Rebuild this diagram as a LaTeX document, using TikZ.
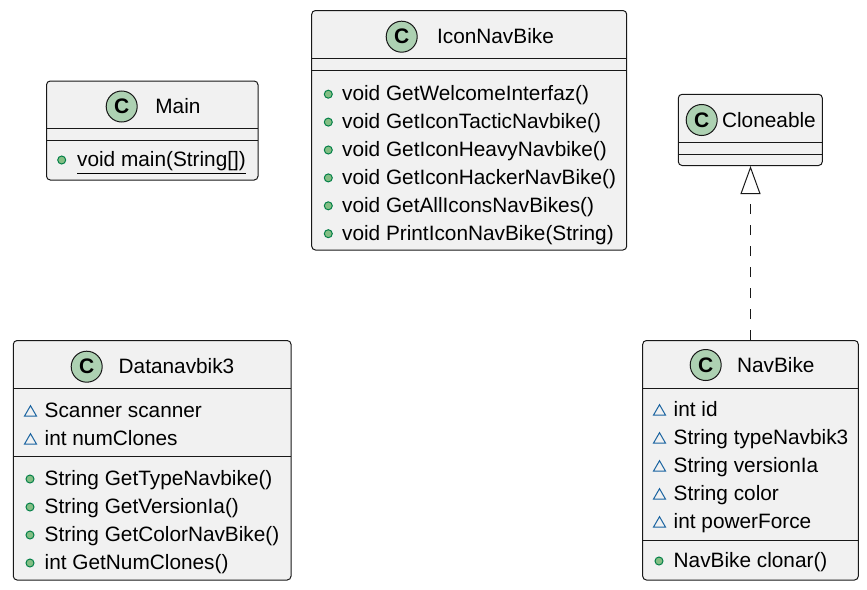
\documentclass[tikz,border=0pt]{standalone}
\usepackage{fontspec}
\setmainfont{Liberation Sans}
\usetikzlibrary{arrows.meta,shapes.geometric}
\definecolor{uborder}{HTML}{181818}
\definecolor{ubg}{HTML}{F1F1F1}
\definecolor{cgreen}{HTML}{ADD1B2}
\definecolor{dotfill}{HTML}{84BE84}
\definecolor{dotborder}{HTML}{038048}
\definecolor{triblue}{HTML}{1963A0}
\tikzset{
  classbox/.style={draw=uborder, fill=ubg, rounded corners=1.9pt, line width=0.5pt, inner sep=0pt},
  sepline/.style={draw=uborder, line width=0.5pt},
  cicon/.style={circle, draw=uborder, fill=cgreen, minimum size=15.5pt, inner sep=0pt, line width=0.5pt, font=\fontsize{10.5}{10.5}\selectfont\bfseries},
  ctitle/.style={anchor=base west, inner sep=0pt, font=\fontsize{10.4}{12}\selectfont},
  member/.style={anchor=base west, inner sep=0pt, font=\fontsize{10.4}{12}\selectfont},
  pubdot/.style={circle, draw=dotborder, fill=dotfill, minimum size=4pt, inner sep=0pt, line width=0.5pt},
  pkgtri/.style={regular polygon, regular polygon sides=3, draw=triblue, minimum size=7pt, inner sep=0pt, line width=0.5pt},
  realize/.style={draw=uborder, line width=0.5pt, dash pattern=on 5.25pt off 5.25pt, -{Triangle[open, length=14pt, width=10pt]}}
}
\begin{document}
\begin{tikzpicture}[x=0.5pt,y=-0.5pt]
\useasboundingbox (0,0) rectangle (867,589);

% ---------- Main ----------
\node[classbox, minimum width=105.75pt, minimum height=49.5pt] (main) at (152.25,130.5) {};
\draw[sepline] (46.5,128.3) -- (258,128.3);
\draw[sepline] (46.5,140) -- (258,140);
\node[cicon] (mainC) at (121.7,106.5) {C};
\node[ctitle] (mainT) at (155,113.3) {Main};
\node[pubdot] (mainD1) at (61.7,160) {};
\node[member] (mainM1) at (76.7,166.7) {\underline{void main(String[])}};

% ---------- IconNavBike ----------
\node[classbox, minimum width=157.5pt, minimum height=119.75pt] (icon) at (469.2,130.25) {};
\draw[sepline] (311.7,58.3) -- (626.7,58.3);
\draw[sepline] (311.7,70) -- (626.7,70);
\node[cicon] (iconC) at (401.7,36.7) {C};
\node[ctitle] (iconT) at (436.7,43.5) {IconNavBike};
\node[pubdot] (iconD1) at (328.3,94.2) {};
\node[pubdot] (iconD2) at (328.3,122.1) {};
\node[pubdot] (iconD3) at (328.3,150) {};
\node[pubdot] (iconD4) at (328.3,177.9) {};
\node[pubdot] (iconD5) at (328.3,205.8) {};
\node[pubdot] (iconD6) at (328.3,233.7) {};
\node[member] (iconM1) at (341.7,100.9) {void GetWelcomeInterfaz()};
\node[member] (iconM2) at (341.7,128.8) {void GetIconTacticNavbike()};
\node[member] (iconM3) at (341.7,156.7) {void GetIconHeavyNavbike()};
\node[member] (iconM4) at (341.7,184.6) {void GetIconHackerNavBike()};
\node[member] (iconM5) at (341.7,212.5) {void GetAllIconsNavBikes()};
\node[member] (iconM6) at (341.7,240.4) {void PrintIconNavBike(String)};

% ---------- Cloneable ----------
\node[classbox, minimum width=72pt, minimum height=35.6pt] (clone) at (750.3,129.9) {};
\draw[sepline] (678.3,142.3) -- (822.3,142.3);
\draw[sepline] (678.3,154) -- (822.3,154);
\node[cicon] (cloneC) at (701.7,120) {C};
\node[ctitle] (cloneT) at (721.7,127.3) {Cloneable};

% ---------- Datanavbik3 ----------
\node[classbox, minimum width=138.85pt, minimum height=119.75pt] (data) at (152.15,460.25) {};
\draw[sepline] (13.3,388.3) -- (291,388.3);
\draw[sepline] (13.3,456) -- (291,456);
\node[cicon] (dataC) at (86.7,366.7) {C};
\node[ctitle] (dataT) at (118.3,373.5) {Datanavbik3};
\node[pkgtri] (dataF1i) at (30.5,412.7) {};
\node[pkgtri] (dataF2i) at (30.5,440.7) {};
\node[member] (dataF1) at (44.3,417.7) {Scanner scanner};
\node[member] (dataF2) at (44.3,445.7) {int numClones};
\node[pubdot] (dataD1) at (30,479) {};
\node[pubdot] (dataD2) at (30,507) {};
\node[pubdot] (dataD3) at (30,535) {};
\node[pubdot] (dataD4) at (30,563) {};
\node[member] (dataM1) at (44.3,485.7) {String GetTypeNavbike()};
\node[member] (dataM2) at (44.3,513.7) {String GetVersionIa()};
\node[member] (dataM3) at (44.3,541.7) {String GetColorNavBike()};
\node[member] (dataM4) at (44.3,569.7) {int GetNumClones()};

% ---------- NavBike ----------
\node[classbox, minimum width=107.8pt, minimum height=119.75pt] (nav) at (750.5,460.25) {};
\draw[sepline] (642.7,388.3) -- (858.3,388.3);
\draw[sepline] (642.7,540) -- (858.3,540);
\node[cicon] (navC) at (705.7,365) {C};
\node[ctitle] (navT) at (736.7,372) {NavBike};
\node[pkgtri] (navF1i) at (659.5,411.7) {};
\node[pkgtri] (navF2i) at (659.5,439.7) {};
\node[pkgtri] (navF3i) at (659.5,467.7) {};
\node[pkgtri] (navF4i) at (659.5,495.7) {};
\node[pkgtri] (navF5i) at (659.5,523.7) {};
\node[member] (navF1) at (673.3,416.7) {int id};
\node[member] (navF2) at (673.3,444.7) {String typeNavbik3};
\node[member] (navF3) at (673.3,472.7) {String versionIa};
\node[member] (navF4) at (673.3,500.7) {String color};
\node[member] (navF5) at (673.3,528.7) {int powerForce};
\node[pubdot] (navD1) at (659,561) {};
\node[member] (navM1) at (673.3,567.7) {NavBike clonar()};

% ---------- realization ----------
\draw[realize] (nav.north) -- (nav.north |- clone.south);
\end{tikzpicture}
\end{document}
